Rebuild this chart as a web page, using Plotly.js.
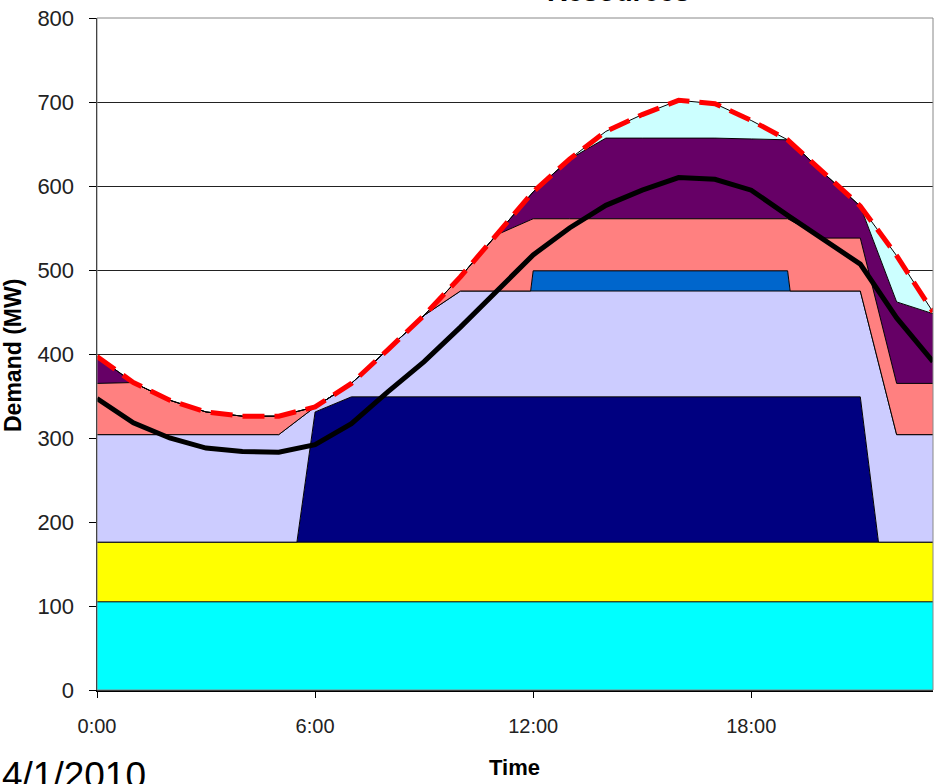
<!DOCTYPE html>
<html>
<head>
<meta charset="utf-8">
<script src="https://cdn.plot.ly/plotly-3.0.1.min.js"></script>
<style>html,body{margin:0;padding:0;background:#fff;}#chart{width:939px;height:784px;}</style>
</head>
<body>
<div id="chart"></div>
<script>
// Stack breakpoints (hours)
const stackHours = [0,1,2,3,4,5,5.5,6,7,8,9,10,11,11.93,12,13,14,15,16,17,18,19,19.07,20,21,21.5,22,23];
// Resource layers (MW), bottom to top
const baseCyan   = [105,105,105,105,105,105,105,105,105,105,105,105,105,105,105,105,105,105,105,105,105,105,105,105,105,105,105,105];
const yellowRes  = [71,71,71,71,71,71,71,71,71,71,71,71,71,71,71,71,71,71,71,71,71,71,71,71,71,71,71,71];
const navyRes    = [0,0,0,0,0,0,0,155,173,173,173,173,173,173,173,173,173,173,173,173,173,173,173,173,173,0,0,0];
const lavenderRes= [128,128,128,128,128,128,144.5,6,16,56,97,126,126,126,126,126,126,126,126,126,126,126,126,126,126,213.5,128,128];
const blueRes    = [0,0,0,0,0,0,0,0,0,0,0,0,0,0,24,24,24,24,24,24,24,24,0,0,0,0,0,0];
const salmonRes  = [61,62,41,27,22,22,11,0,0,0,0,17,67,84.7,62,62,62,62,62,62,62,62,84.4,63,63,62,61,61];
const purpleRes  = [32,0,0,0,0,0,0,0,0,0,0,0,0,29.7,32,71,96,96,96,96,95,94,94,77,38,67.5,97,83];
const ltCyanRes  = [0,0,0,0,0,0,0,0,0,0,0,0,0,0,0,0,8,28,45,41,22,0,0,0,0,27.5,55,2];

// Hourly lines
const hours = [0,1,2,3,4,5,6,7,8,9,10,11,12,13,14,15,16,17,18,19,20,21,22,23];
const forecastLoad = [397,366,345,331,326,326,337,365,405,446,492,542,593,632,665,685,702,698,678,655,615,576,517,450];
const actualLoad   = [347,318,300,288,284,283,292,317,355,391,432,476,518,550,577,595,610,608,595,565,536,507,443,391];

const tickHours = [0,6,12,18];
const tickLabels = ['0:00','6:00','12:00','18:00'];

const layers = [
  [baseCyan,'#00FFFF'],
  [yellowRes,'#FFFF00'],
  [navyRes,'#000080'],
  [lavenderRes,'#CCCCFF'],
  [blueRes,'#0066CC'],
  [salmonRes,'#FF8080'],
  [purpleRes,'#660066'],
  [ltCyanRes,'#CCFFFF']
];

const traces = layers.map(([vals,col]) => ({
  type:'scatter', mode:'lines', x:stackHours, y:vals, stackgroup:'one',
  fillcolor:col, line:{color:'#000', width:1}, hoverinfo:'skip'
}));
traces.push({type:'scatter', mode:'lines', x:hours, y:actualLoad,
  line:{color:'#000', width:5}});
traces.push({type:'scatter', mode:'lines', x:hours, y:forecastLoad,
  line:{color:'#FF0000', width:5, dash:'22px,10px'}});

const F = 'Liberation Sans, Arial, sans-serif';
const layout = {
  width:939, height:784,
  margin:{l:97, r:6, t:18, b:94},
  paper_bgcolor:'#fff', plot_bgcolor:'#fff',
  showlegend:false,
  xaxis:{range:[0,23], tickvals:tickHours, ticktext:tickLabels, showgrid:false, zeroline:false,
    showline:true, linecolor:'#000', linewidth:1.5, ticks:'outside', ticklen:6, tickcolor:'#000',
    tickfont:{family:F, size:20, color:'#222'}, ticklabelstandoff:11},
  yaxis:{range:[0,800], tickvals:[0,100,200,300,400,500,600,700,800], showgrid:true, gridcolor:'#222', gridwidth:1,
    zeroline:false, showline:true, linecolor:'#000', linewidth:1.5, ticks:'outside', ticklen:7, tickcolor:'#000',
    tickfont:{family:F, size:22, color:'#222'}, ticklabelstandoff:10},
  shapes:[{type:'rect', xref:'paper', yref:'paper', x0:0, x1:1, y0:0, y1:1, line:{color:'#888', width:1}, layer:'above'}],
  annotations:[
    {text:'<b>Resources</b>', xref:'paper', yref:'paper', x:(618-97)/836, y:(690-9)/672, xanchor:'center', yanchor:'bottom', showarrow:false, font:{family:F, size:28, color:'#000'}},
    {text:'<b>Time</b>', xref:'paper', yref:'paper', x:(514-97)/836, y:(690-753)/672, xanchor:'center', yanchor:'top', showarrow:false, font:{family:F, size:22, color:'#000'}},
    {text:'<b>Demand (MW)</b>', xref:'paper', yref:'paper', x:(13-97)/836, y:(690-356)/672, xanchor:'center', yanchor:'middle', textangle:-90, showarrow:false, font:{family:F, size:23, color:'#000'}},
    {text:'4/1/2010', xref:'paper', yref:'paper', x:(0-97)/836, y:(690-753)/672, xanchor:'left', yanchor:'top', showarrow:false, font:{family:F, size:37, color:'#000'}}
  ]
};
Plotly.newPlot('chart', traces, layout, {displayModeBar:false, staticPlot:true});
</script>
</body>
</html>
